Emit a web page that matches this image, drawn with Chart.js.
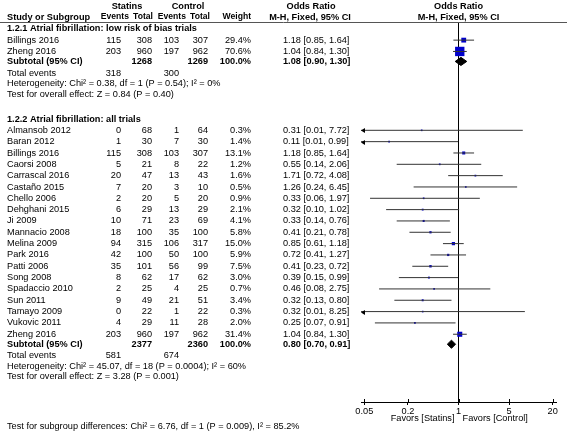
<!DOCTYPE html>
<html>
<head>
<meta charset="utf-8">
<script src="https://cdn.jsdelivr.net/npm/chart.js@4.4.0/dist/chart.umd.min.js"></script>
<style>
  html, body { margin: 0; padding: 0; background: #fff; }
</style>
</head>
<body>
<canvas id="forest" width="567" height="431"></canvas>
<script>
// ---- 1.2.1 Atrial fibrillation: low risk of bias trials ----
const studies1 = ['Billings 2016', 'Zheng 2016'];
const statEvents1 = [115, 203];
const statTotal1 = [308, 960];
const ctrlEvents1 = [103, 197];
const ctrlTotal1 = [307, 962];
const weight1 = [29.4, 70.6];
const or1 = [1.18, 1.04];
const lo1 = [0.85, 0.84];
const hi1 = [1.64, 1.30];
const subTotals1 = [1268, 1269];
const subOR1 = [1.08, 0.90, 1.30];
const totalEvents1 = [318, 300];
const het1 = 'Heterogeneity: Chi² = 0.38, df = 1 (P = 0.54); I² = 0%';
const effect1 = 'Test for overall effect: Z = 0.84 (P = 0.40)';

// ---- 1.2.2 Atrial fibrillation: all trials ----
const studies2 = ['Almansob 2012', 'Baran 2012', 'Billings 2016', 'Caorsi 2008', 'Carrascal 2016',
  'Castaño 2015', 'Chello 2006', 'Dehghani 2015', 'Ji 2009', 'Mannacio 2008', 'Melina 2009',
  'Park 2016', 'Patti 2006', 'Song 2008', 'Spadaccio 2010', 'Sun 2011', 'Tamayo 2009',
  'Vukovic 2011', 'Zheng 2016'];
const statEvents2 = [0, 1, 115, 5, 20, 7, 2, 6, 10, 18, 94, 42, 35, 8, 2, 9, 0, 4, 203];
const statTotal2 = [68, 30, 308, 21, 47, 20, 20, 29, 71, 100, 315, 100, 101, 62, 25, 49, 22, 29, 960];
const ctrlEvents2 = [1, 7, 103, 8, 13, 3, 5, 13, 23, 35, 106, 50, 56, 17, 4, 21, 1, 11, 197];
const ctrlTotal2 = [64, 30, 307, 22, 43, 10, 20, 29, 69, 100, 317, 100, 99, 62, 25, 51, 22, 28, 962];
const weight2 = [0.3, 1.4, 13.1, 1.2, 1.6, 0.5, 0.9, 2.1, 4.1, 5.8, 15.0, 5.9, 7.5, 3.0, 0.7, 3.4, 0.3, 2.0, 31.4];
const or2 = [0.31, 0.11, 1.18, 0.55, 1.71, 1.26, 0.33, 0.32, 0.33, 0.41, 0.85, 0.72, 0.41, 0.39, 0.46, 0.32, 0.32, 0.25, 1.04];
const lo2 = [0.01, 0.01, 0.85, 0.14, 0.72, 0.24, 0.06, 0.10, 0.14, 0.21, 0.61, 0.41, 0.23, 0.15, 0.08, 0.13, 0.01, 0.07, 0.84];
const hi2 = [7.72, 0.99, 1.64, 2.06, 4.08, 6.45, 1.97, 1.02, 0.76, 0.78, 1.18, 1.27, 0.72, 0.99, 2.75, 0.80, 8.25, 0.91, 1.30];
const subTotals2 = [2377, 2360];
const subOR2 = [0.80, 0.70, 0.91];
const totalEvents2 = [581, 674];
const het2 = 'Heterogeneity: Chi² = 45.07, df = 18 (P = 0.0004); I² = 60%';
const effect2 = 'Test for overall effect: Z = 3.28 (P = 0.001)';

const subgroupTest = 'Test for subgroup differences: Chi² = 6.76, df = 1 (P = 0.009), I² = 85.2%';
const xTicks = [0.05, 0.2, 1, 5, 20];

//---------------------- layout -----------------------//
const FONT = '"Liberation Sans", Arial, sans-serif';
const FS = 9.2;
const X_MIN = 0.045, X_MAX = 22.2;

const groups = [
  { title: '1.2.1 Atrial fibrillation: low risk of bias trials', studies: studies1, se: statEvents1, st: statTotal1,
    ce: ctrlEvents1, ct: ctrlTotal1, w: weight1, or: or1, lo: lo1, hi: hi1, sub: subTotals1, subOR: subOR1,
    tot: totalEvents1, het: het1, eff: effect1 },
  { title: '1.2.2 Atrial fibrillation: all trials', studies: studies2, se: statEvents2, st: statTotal2,
    ce: ctrlEvents2, ct: ctrlTotal2, w: weight2, or: or2, lo: lo2, hi: hi2, sub: subTotals2, subOR: subOR2,
    tot: totalEvents2, het: het2, eff: effect2 }
];

// row positions (in row units, top down)
let cur = 0.6;
groups.forEach(g => {
  g.yTitle = cur;
  g.yRows = g.studies.map((s, i) => cur + 1 + i);
  g.ySub = cur + g.studies.length + 0.88;
  g.yTot = g.ySub + 1.02;
  g.yHet = g.yTot + 0.93;
  g.yEff = g.yHet + 0.93;
  cur = g.yEff + 2.2;
});

//---------------------- datasets -----------------------//
const ciData = [];
const pointData = [];
const pointWeights = [];
groups.forEach(g => {
  g.studies.forEach((s, i) => {
    const y = g.yRows[i];
    ciData.push({ x: g.lo[i], y: y }, { x: g.hi[i], y: y }, { x: null, y: null });
    pointData.push({ x: g.or[i], y: y });
    pointWeights.push(g.w[i]);
  });
});

function diamond(g) {
  const [est, lo, hi] = g.subOR;
  const y = g.ySub, h = 0.36;
  return {
    type: 'scatter',
    data: [{ x: lo, y: y }, { x: est, y: y - h }, { x: hi, y: y }, { x: est, y: y + h }, { x: lo, y: y }],
    showLine: true,
    fill: 'shape',
    backgroundColor: '#000',
    borderColor: '#000',
    borderWidth: 1,
    pointRadius: 0
  };
}

//---------------------- plugin: table text -----------------------//
const fmt = v => v.toFixed(2);
const orText = (o, l, h) => `${fmt(o)} [${fmt(l)}, ${fmt(h)}]`;

const tablePlugin = {
  id: 'forestTable',
  afterDatasetsDraw(chart) {
    // arrows where the CI runs off the left of the axis
    const { ctx, chartArea: ca, scales: { y } } = chart;
    ctx.save();
    ctx.fillStyle = '#000';
    groups.forEach(g => {
      g.lo.forEach((l, i) => {
        if (l < X_MIN) {
          const py = Math.round(y.getPixelForValue(g.yRows[i])) + 0.5;
          ctx.beginPath();
          ctx.moveTo(ca.left, py);
          ctx.lineTo(ca.left + 4, py - 2.5);
          ctx.lineTo(ca.left + 4, py + 2.5);
          ctx.closePath();
          ctx.fill();
        }
      });
    });
    ctx.restore();
  },
  afterDraw(chart) {
    const { ctx, chartArea: ca, scales: { x, y } } = chart;
    const reg = `${FS}px ${FONT}`;
    const bold = `bold ${FS}px ${FONT}`;
    const headBold = `bold 8.6px ${FONT}`;
    ctx.save();
    ctx.fillStyle = '#000';
    ctx.textBaseline = 'middle';
    const txt = (s, px, py, align, font) => {
      ctx.font = font || reg;
      ctx.textAlign = align || 'left';
      ctx.fillText(s, px, py);
    };

    const colSE = 121, colST = 152, colCE = 179, colCT = 208, colW = 251, colOR = 283;
    const xOne = x.getPixelForValue(1);

    // header
    const h1 = ca.top - 16, h2 = ca.top - 5;
    txt('Statins', 127, h1, 'center', bold);
    txt('Control', 188, h1, 'center', bold);
    txt('Odds Ratio', 311, h1, 'center', bold);
    txt('Odds Ratio', xOne, h1, 'center', bold);
    txt('Study or Subgroup', 7, h2, 'left', bold);
    txt('Events', 129, h2, 'right', headBold);
    txt('Total', 153, h2, 'right', headBold);
    txt('Events', 186, h2, 'right', headBold);
    txt('Total', 210, h2, 'right', headBold);
    txt('Weight', colW, h2, 'right', headBold);
    txt('M-H, Fixed, 95% CI', 310, h2, 'center', bold);
    txt('M-H, Fixed, 95% CI', xOne, h2, 'center', bold);

    ctx.strokeStyle = '#555';
    ctx.lineWidth = 1;
    ctx.beginPath();
    ctx.moveTo(0, Math.round(ca.top) + 0.5);
    ctx.lineTo(chart.width, Math.round(ca.top) + 0.5);
    ctx.stroke();

    groups.forEach(g => {
      const py = v => y.getPixelForValue(v);
      txt(g.title, 7, py(g.yTitle), 'left', bold);
      g.studies.forEach((s, i) => {
        const r = py(g.yRows[i]);
        txt(s, 7, r);
        txt(String(g.se[i]), colSE, r, 'right');
        txt(String(g.st[i]), colST, r, 'right');
        txt(String(g.ce[i]), colCE, r, 'right');
        txt(String(g.ct[i]), colCT, r, 'right');
        txt(g.w[i].toFixed(1) + '%', colW, r, 'right');
        txt(orText(g.or[i], g.lo[i], g.hi[i]), colOR, r);
      });
      const rs = py(g.ySub);
      txt('Subtotal (95% CI)', 7, rs, 'left', bold);
      txt(String(g.sub[0]), colST, rs, 'right', bold);
      txt(String(g.sub[1]), colCT, rs, 'right', bold);
      txt('100.0%', colW, rs, 'right', bold);
      txt(orText(g.subOR[0], g.subOR[1], g.subOR[2]), colOR, rs, 'left', bold);
      const rt = py(g.yTot);
      txt('Total events', 7, rt);
      txt(String(g.tot[0]), colSE, rt, 'right');
      txt(String(g.tot[1]), colCE, rt, 'right');
      txt(g.het, 7, py(g.yHet));
      txt(g.eff, 7, py(g.yEff));
    });

    // upper half of the tick marks
    ctx.strokeStyle = '#000';
    x.ticks.forEach(t => {
      const px = Math.round(x.getPixelForValue(t.value)) + 0.5;
      ctx.beginPath();
      ctx.moveTo(px, ca.bottom - 3);
      ctx.lineTo(px, ca.bottom);
      ctx.stroke();
    });

    txt('Favors [Statins]', xOne - 4, ca.bottom + 16, 'right');
    txt('Favors [Control]', xOne + 4, ca.bottom + 16, 'left');
    txt(subgroupTest, 7, ca.bottom + 24);
    ctx.restore();
  }
};

//---------------------- chart -----------------------//
new Chart(document.getElementById('forest'), {
  type: 'scatter',
  data: {
    datasets: [
      {
        data: ciData,
        showLine: true,
        spanGaps: false,
        borderColor: '#333',
        borderWidth: 1,
        pointRadius: 0
      },
      {
        data: pointData,
        pointStyle: 'rect',
        backgroundColor: '#0000cc',
        pointBorderWidth: 0,
        pointRadius: c => (1.6 + 0.11 * pointWeights[c.dataIndex]) / Math.SQRT2
      },
      diamond(groups[0]),
      diamond(groups[1])
    ]
  },
  options: {
    responsive: false,
    animation: false,
    layout: { padding: { left: 361, right: 11, top: 22, bottom: 3 } },
    plugins: { legend: { display: false }, tooltip: { enabled: false } },
    scales: {
      x: {
        type: 'logarithmic',
        min: X_MIN,
        max: X_MAX,
        afterBuildTicks: s => { s.ticks = xTicks.map(v => ({ value: v })); },
        afterFit: s => { s.height = 26; },
        ticks: {
          callback: v => String(v),
          color: '#000',
          font: { family: FONT, size: FS },
          padding: 1,
          maxRotation: 0,
          autoSkip: false
        },
        grid: {
          drawOnChartArea: true,
          color: c => (c.tick && c.tick.value === 1 ? '#000' : 'rgba(0,0,0,0)'),
          tickColor: '#000',
          tickLength: 3
        },
        border: { display: true, color: '#000', width: 1 }
      },
      y: {
        type: 'linear',
        display: false,
        reverse: true,
        min: 0,
        max: 33.54
      }
    }
  },
  plugins: [tablePlugin]
});
</script>
</body>
</html>
